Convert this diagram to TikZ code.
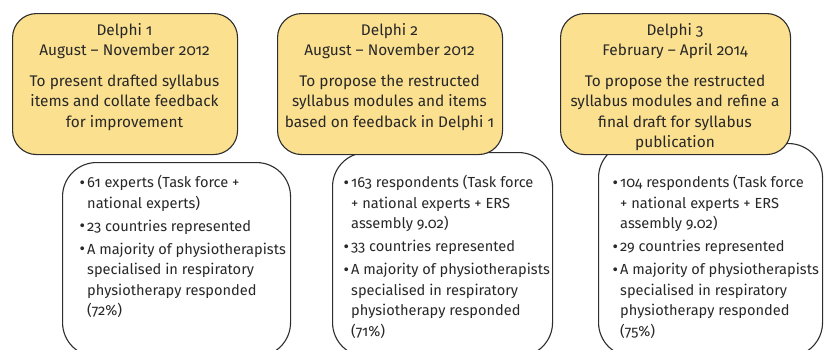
\documentclass[tikz,border=0pt]{standalone}
\usepackage{fontspec}
\setmainfont{Fira Sans}[Numbers=OldStyle]
\usepackage{graphicx}
\definecolor{yfill}{RGB}{251,224,143}
\definecolor{edge}{RGB}{45,45,45}
\definecolor{ink}{RGB}{40,40,40}
\newcommand\bu{\makebox[7pt][l]{\hspace*{-0.5pt}\raisebox{-0.5pt}{\scalebox{1.15}{•}}}}
\newcommand\ind{\hspace*{7pt}}
\begin{document}
\begin{tikzpicture}[x=1pt,y=-1pt,
  ybox/.style={draw=edge, line width=1.1pt, fill=yfill, rounded corners=24pt, anchor=north west, inner sep=0},
  wbox/.style={draw=edge, line width=1.1pt, fill=white, rounded corners=34pt, anchor=north west, inner sep=0},
  head/.style={align=center, font=\fontsize{15.4}{20.2}\selectfont, text=ink, inner sep=0, anchor=north},
  list/.style={align=left, font=\fontsize{14.6}{20.5}\selectfont, text=ink, inner sep=0, anchor=north west}]
\useasboundingbox (0,0) rectangle (830,349);
% white boxes
\node[wbox, minimum width=228pt, minimum height=194pt] (w1) at (62,162) {};
\node[wbox, minimum width=220pt, minimum height=204pt] (w2) at (332,152) {};
\node[wbox, minimum width=224pt, minimum height=213pt] (w3) at (598,143) {};
% yellow boxes
\node[ybox, minimum width=225pt, minimum height=141pt] (y1) at (12,13) {};
\node[ybox, minimum width=225pt, minimum height=141pt] (y2) at (277,13) {};
\node[ybox, minimum width=230pt, minimum height=141pt] (y3) at (560,13) {};
% headings
\node[head] (h1) at (124.5,23) {Delphi 1\\August – November 2012\\[11pt]To present drafted syllabus\\items and collate feedback\\for improvement};
\node[head] (h2) at (389.5,23) {Delphi 2\\August – November 2012\\[11pt]To propose the restructed\\syllabus modules and items\\based on feedback in Delphi 1};
\node[head] (h3) at (675,23) {Delphi 3\\February – April 2014\\[11pt]To propose the restructed\\syllabus modules and refine a\\final draft for syllabus\\publication};
% lists
\node[list] (l1) at (80,175) {\bu 61 experts (Task force +\\\ind national experts)\\[2.5pt]\bu 23 countries represented\\[2.5pt]\bu A majority of physiotherapists\\\ind specialised in respiratory\\\ind physiotherapy responded\\\ind (72\%)};
\node[list] (l2) at (344,175) {\bu 163 respondents (Task force\\\ind + national experts + ERS\\\ind assembly 9.02)\\[2.5pt]\bu 33 countries represented\\[2.5pt]\bu A majority of physiotherapists\\\ind specialised in respiratory\\\ind physiotherapy responded\\\ind (71\%)};
\node[list] (l3) at (613,175) {\bu 104 respondents (Task force\\\ind + national experts + ERS\\\ind assembly 9.02)\\[2.5pt]\bu 29 countries represented\\[2.5pt]\bu A majority of physiotherapists\\\ind specialised in respiratory\\\ind physiotherapy responded\\\ind (75\%)};
\end{tikzpicture}
\end{document}
